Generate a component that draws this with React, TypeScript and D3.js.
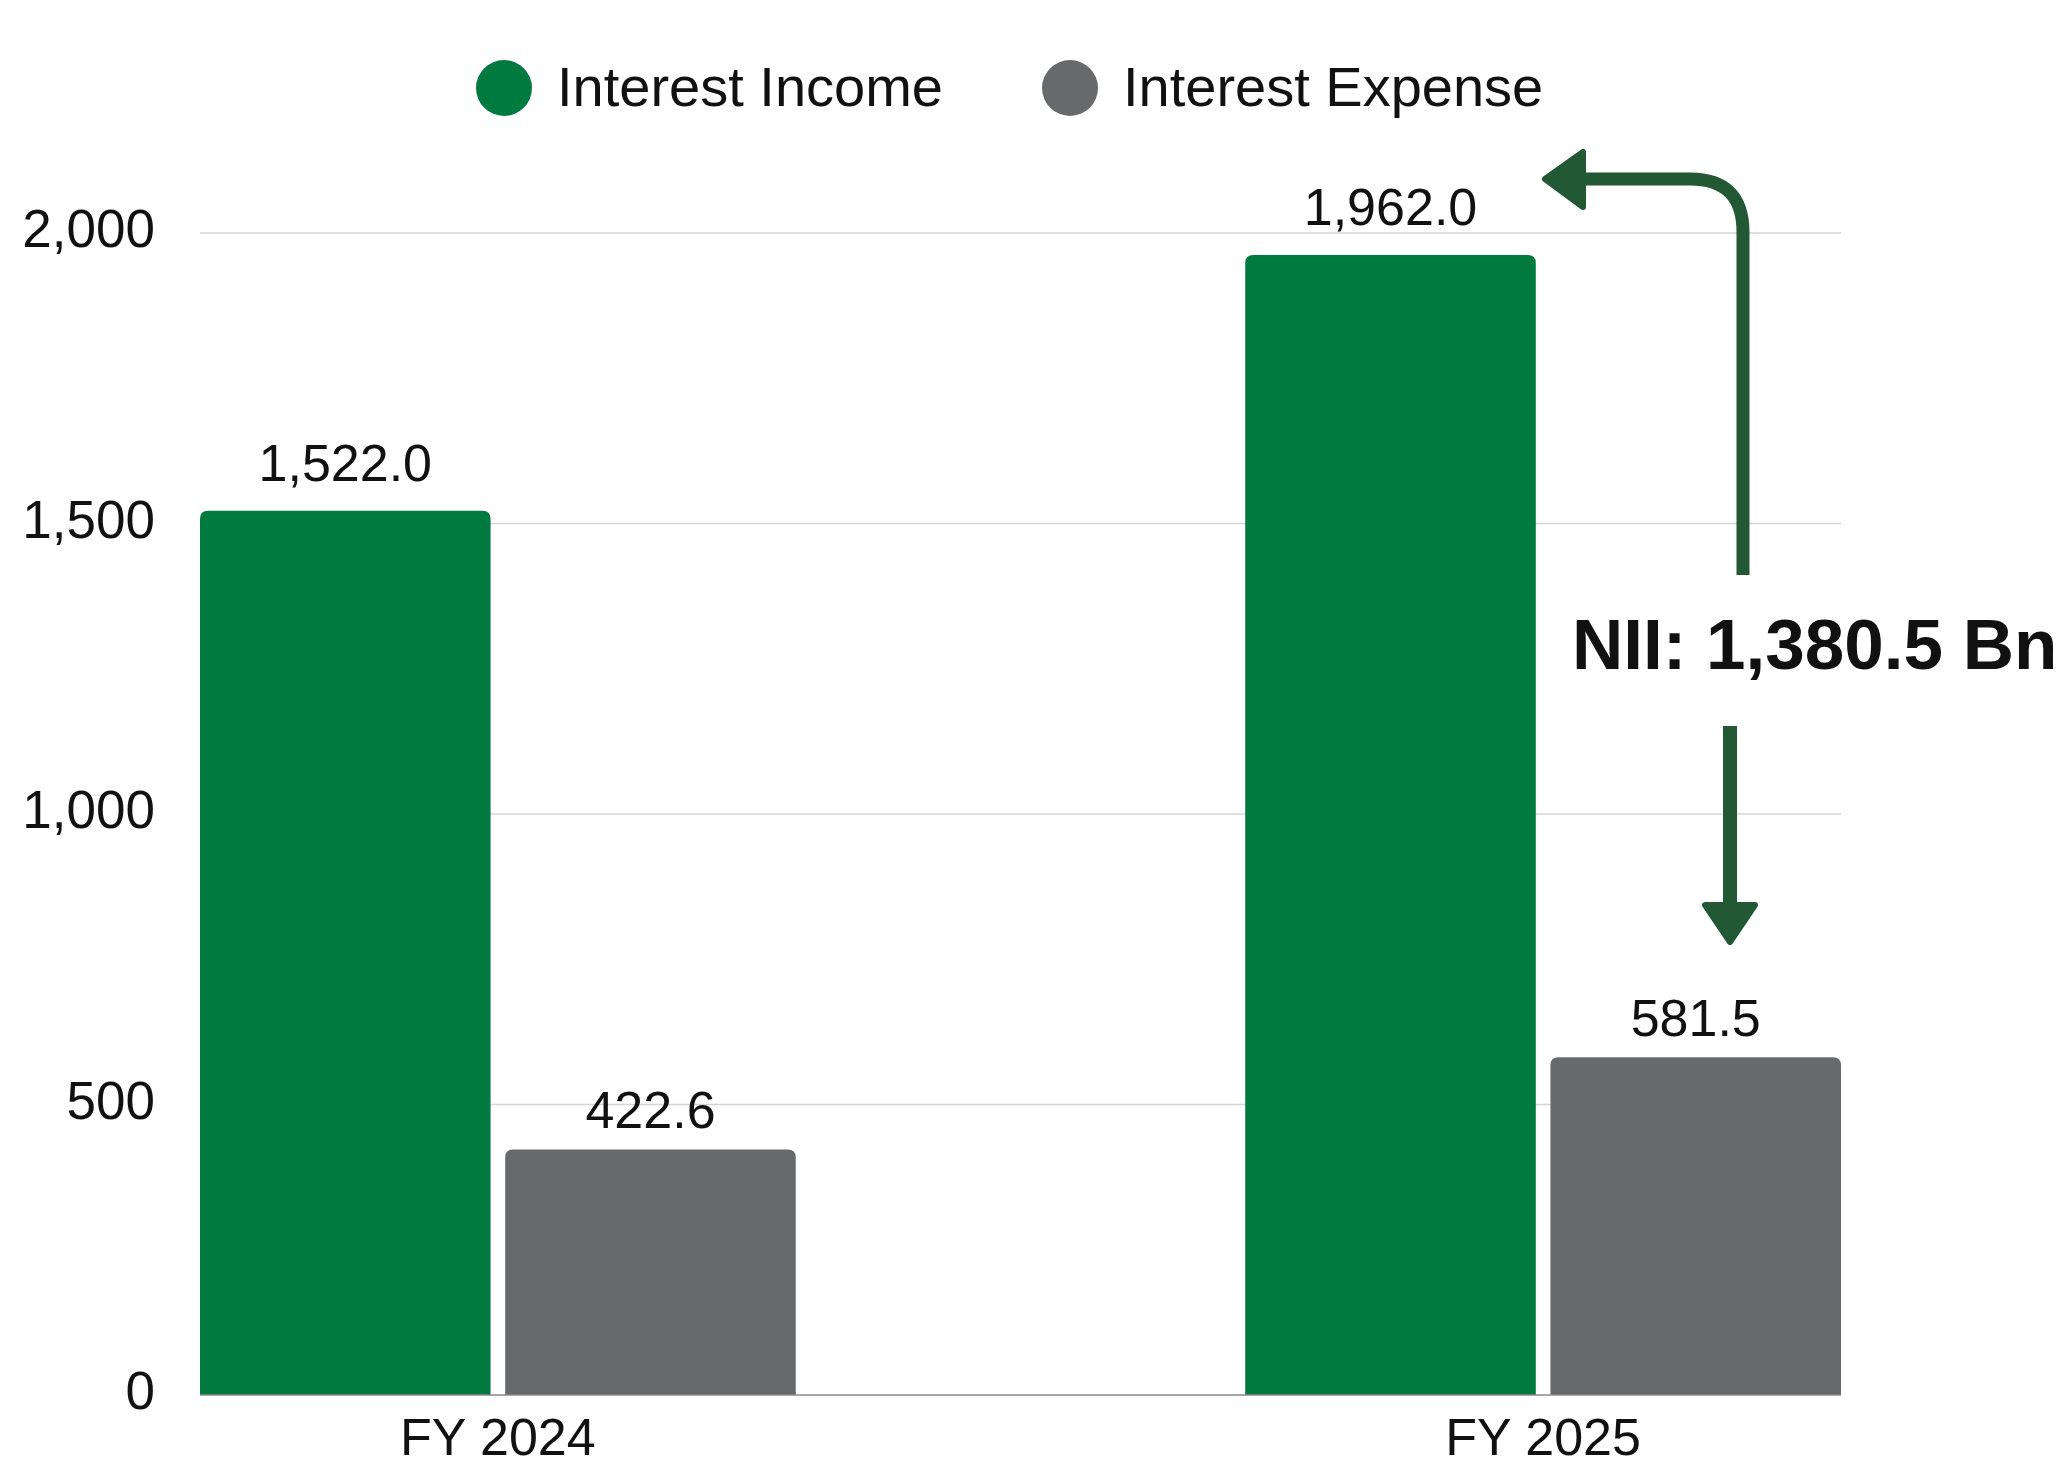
import { useEffect, useRef } from "react";
import * as d3 from "d3";

const years = ["FY 2024", "FY 2025"];
const seriesNames = ["Interest Income", "Interest Expense"];
const interestIncome = [1522.0, 1962.0];
const interestExpense = [422.6, 581.5];
const yTicks = [0, 500, 1000, 1500, 2000];
const niiLabel = "NII: 1,380.5 Bn";

const WIDTH = 2068;
const HEIGHT = 1468;
const colors = ["#007A3F", "#68696B"];
const arrowColor = "#225934";
const FONT = "'Liberation Sans', Arial, Helvetica, sans-serif";

function topRoundedBar(x: number, y: number, w: number, h: number, r: number) {
  const rr = Math.min(r, h / 2, w / 2);
  return `M${x},${y + h}V${y + rr}Q${x},${y} ${x + rr},${y}H${x + w - rr}Q${x + w},${y} ${x + w},${y + rr}V${y + h}Z`;
}

export default function App() {
  const svgRef = useRef<SVGSVGElement>(null);

  useEffect(() => {
    const svg = d3.select(svgRef.current);
    svg.selectAll("*").remove();

    const y = d3.scaleLinear().domain([0, 2000]).range([1395, 233]);
    const x0 = d3.scaleBand().domain(years).range([200, 1841]).paddingInner(0.43).paddingOuter(0);
    const x1 = d3.scaleBand().domain(seriesNames).range([0, x0.bandwidth()]).paddingInner(0.048);

    const rows = years.map((yr, i) => ({
      year: yr,
      values: [
        { name: seriesNames[0], value: interestIncome[i] },
        { name: seriesNames[1], value: interestExpense[i] },
      ],
    }));

    // grid
    svg.append("g")
      .selectAll("line")
      .data(yTicks.filter(t => t > 0))
      .enter()
      .append("line")
      .attr("x1", 200)
      .attr("x2", 1841)
      .attr("y1", d => y(d))
      .attr("y2", d => y(d))
      .attr("stroke", "#D4D4D4")
      .attr("stroke-width", 1.5);

    // y labels
    svg.append("g")
      .selectAll("text")
      .data(yTicks)
      .enter()
      .append("text")
      .attr("x", 155)
      .attr("y", d => y(d) + 14)
      .attr("text-anchor", "end")
      .attr("font-family", FONT)
      .attr("font-size", 53)
      .attr("fill", "#111")
      .text(d => d3.format(",")(d));

    // bars
    const groups = svg.append("g")
      .selectAll("g")
      .data(rows)
      .enter()
      .append("g")
      .attr("transform", d => `translate(${x0(d.year)},0)`);

    groups.selectAll("path")
      .data(d => d.values)
      .enter()
      .append("path")
      .attr("d", d => topRoundedBar(x1(d.name)!, y(d.value), x1.bandwidth(), y(0) - y(d.value), 8))
      .attr("fill", (d, i) => colors[i]);

    groups.selectAll("text")
      .data(d => d.values)
      .enter()
      .append("text")
      .attr("x", d => x1(d.name)! + x1.bandwidth() / 2)
      .attr("y", d => y(d.value) - (d.value >= 1000 ? 30 : 21))
      .attr("text-anchor", "middle")
      .attr("font-family", FONT)
      .attr("font-size", 52)
      .attr("fill", "#111")
      .text(d => d3.format(",.1f")(d.value));

    // baseline
    svg.append("line")
      .attr("x1", 200)
      .attr("x2", 1841)
      .attr("y1", y(0))
      .attr("y2", y(0))
      .attr("stroke", "#8A8A8A")
      .attr("stroke-width", 1.5);

    // x labels
    svg.append("g")
      .selectAll("text")
      .data(years)
      .enter()
      .append("text")
      .attr("x", d => x0(d)! + x0.bandwidth() / 2)
      .attr("y", 1455)
      .attr("text-anchor", "middle")
      .attr("font-family", FONT)
      .attr("font-size", 52)
      .attr("fill", "#111")
      .text(d => d);

    // legend
    const legendX = [504, 1070];
    const legend = svg.append("g")
      .selectAll("g")
      .data(seriesNames)
      .enter()
      .append("g")
      .attr("transform", (d, i) => `translate(${legendX[i]},88)`);

    legend.append("circle")
      .attr("r", 28)
      .attr("fill", (d, i) => colors[i]);

    legend.append("text")
      .attr("x", 53)
      .attr("y", 18)
      .attr("font-family", FONT)
      .attr("font-size", 56)
      .attr("fill", "#111")
      .text(d => d);

    // NII annotation
    const ann = svg.append("g");

    ann.append("path")
      .attr("d", "M1743,575V232Q1743,179 1690,179H1575")
      .attr("fill", "none")
      .attr("stroke", arrowColor)
      .attr("stroke-width", 13);

    ann.append("path")
      .attr("d", "M1545,179L1583,152L1583,207Z")
      .attr("fill", arrowColor)
      .attr("stroke", arrowColor)
      .attr("stroke-width", 6)
      .attr("stroke-linejoin", "round");

    ann.append("path")
      .attr("d", "M1730,726V910")
      .attr("fill", "none")
      .attr("stroke", arrowColor)
      .attr("stroke-width", 14);

    ann.append("path")
      .attr("d", "M1730,942L1705,905L1755,905Z")
      .attr("fill", arrowColor)
      .attr("stroke", arrowColor)
      .attr("stroke-width", 6)
      .attr("stroke-linejoin", "round");

    ann.append("text")
      .attr("x", 1572)
      .attr("y", 669)
      .attr("font-family", FONT)
      .attr("font-weight", "bold")
      .attr("font-size", 71)
      .attr("fill", "#111")
      .text(niiLabel);
  }, []);

  return (
    <svg
      ref={svgRef}
      width={WIDTH}
      height={HEIGHT}
      style={{ position: "absolute", left: 0, top: 0, background: "#fff" }}
    />
  );
}
